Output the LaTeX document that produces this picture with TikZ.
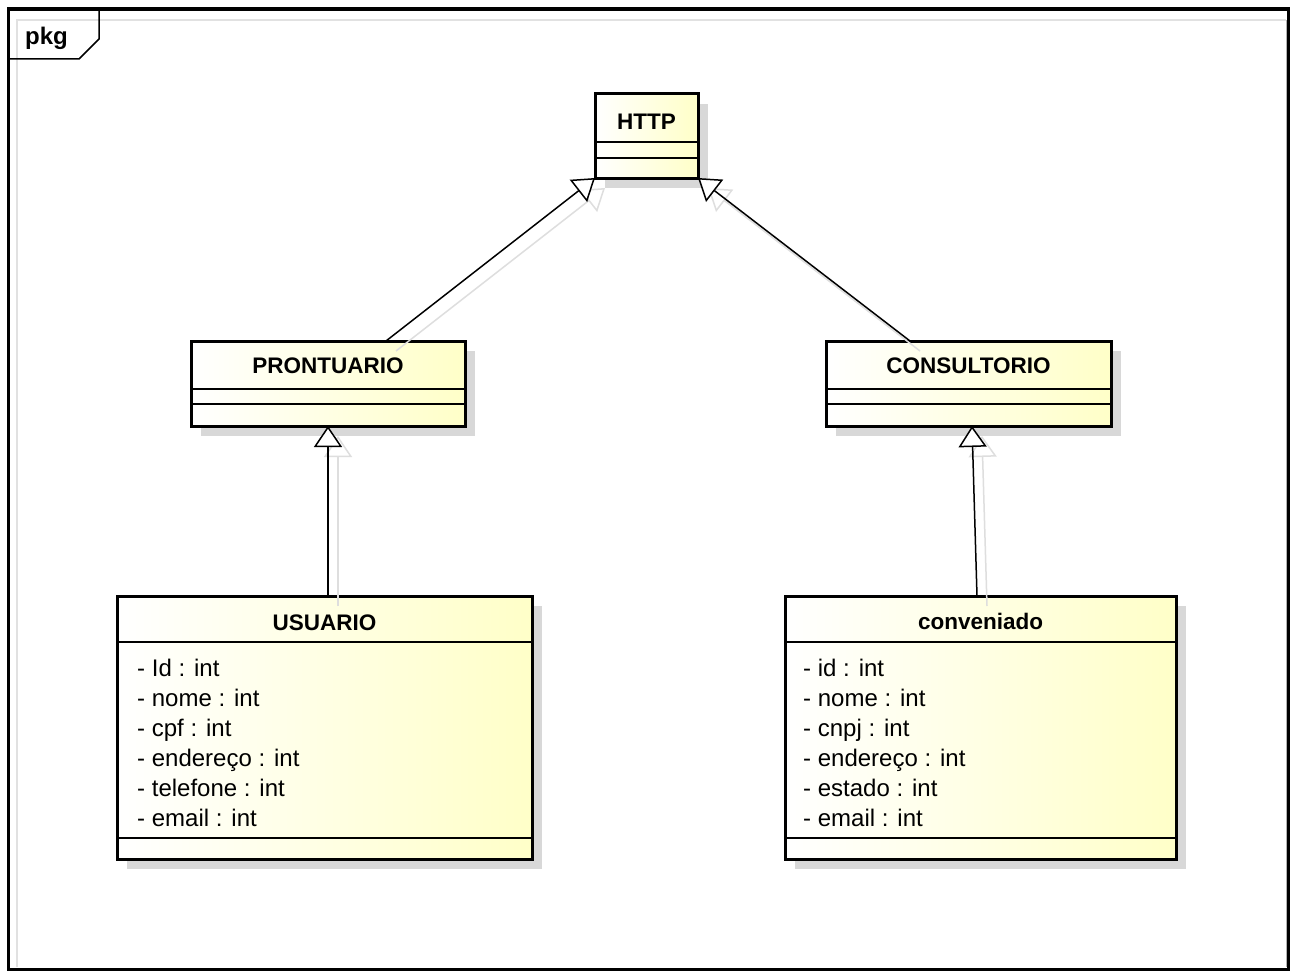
\documentclass[tikz,border=0pt]{standalone}
\usepackage{fontspec}
\setmainfont{Liberation Sans}
\usetikzlibrary{arrows.meta,shadows}
\definecolor{umly}{RGB}{255,255,200}
\definecolor{shadowgray}{RGB}{216,216,216}
\definecolor{connshadow}{RGB}{222,222,222}
\definecolor{framegray}{RGB}{225,225,225}
\begin{document}
\begin{tikzpicture}[x=1pt,y=-1pt,
  classbox/.style={draw=black, line width=3pt, left color=white, right color=umly,
    outer sep=0pt, inner sep=0pt,
    drop shadow={shadow xshift=10pt, shadow yshift=-10pt, fill=shadowgray, opacity=1}},
  sepline/.style={line width=1.5pt},
  cname/.style={font=\fontsize{22.5}{26}\selectfont\bfseries, anchor=base, inner sep=0pt},
  attr/.style={font=\fontsize{24}{28}\selectfont, anchor=base west, inner sep=0pt},
  gen/.style={draw=black, line width=1.5pt, -{Triangle[length=21pt,width=28pt,fill=white]}},
  genshadow/.style={draw=connshadow, line width=1.5pt, -{Triangle[length=21pt,width=28pt,fill=white]}},
]
\useasboundingbox (0,0) rectangle (1290,971);
\fill[white] (0,0) rectangle (1290,971);
% package frame
\draw[framegray, line width=1.5pt] (17,967) -- (17,20) -- (1286,20);
\draw[gray!60, line width=1pt] (1286,20) -- (1286,967);
\draw[black, line width=3.5pt] (8.5,9) rectangle (1288.5,969.5);
\draw[black, line width=1.5pt] (8.5,59) -- (79,59) -- (99,39) -- (99,9);
\node[font=\fontsize{24}{28}\selectfont\bfseries, anchor=base west, inner sep=0pt] (pkg) at (25,45) {pkg};

% classes
\node[classbox, minimum width=103pt, minimum height=84pt] (http) at (646.5,136) {};
\node[classbox, minimum width=274pt, minimum height=85pt] (prontuario) at (328,383.5) {};
\node[classbox, minimum width=285pt, minimum height=85pt] (consultorio) at (968.5,383.5) {};
\node[classbox, minimum width=415pt, minimum height=263pt] (usuario) at (324.5,727.5) {};
\node[classbox, minimum width=391pt, minimum height=263pt] (conveniado) at (980.5,727.5) {};

% compartments
\draw[sepline] (http.west |- 0,142) -- (http.east |- 0,142);
\draw[sepline] (http.west |- 0,158) -- (http.east |- 0,158);
\draw[sepline] (prontuario.west |- 0,389) -- (prontuario.east |- 0,389);
\draw[sepline] (prontuario.west |- 0,404) -- (prontuario.east |- 0,404);
\draw[sepline] (consultorio.west |- 0,389) -- (consultorio.east |- 0,389);
\draw[sepline] (consultorio.west |- 0,404) -- (consultorio.east |- 0,404);
\draw[sepline] (usuario.west |- 0,642) -- (usuario.east |- 0,642);
\draw[sepline] (usuario.west |- 0,838) -- (usuario.east |- 0,838);
\draw[sepline] (conveniado.west |- 0,642) -- (conveniado.east |- 0,642);
\draw[sepline] (conveniado.west |- 0,838) -- (conveniado.east |- 0,838);

% names
\node[cname] (httpname) at (646.5,129) {HTTP};
\node[cname] (prontname) at (328,373) {PRONTUARIO};
\node[cname] (consname) at (968.5,373) {CONSULTORIO};
\node[cname] (usuname) at (324.5,630) {USUARIO};
\node[cname] (convname) at (980.5,629) {conveniado};

% attributes
\node[attr] (u1) at (137,676) {- Id : int};
\node[attr] (u2) at (137,706) {- nome : int};
\node[attr] (u3) at (137,736) {- cpf : int};
\node[attr] (u4) at (137,766) {- endereço : int};
\node[attr] (u5) at (137,796) {- telefone : int};
\node[attr] (u6) at (137,826) {- email : int};
\node[attr] (c1) at (803,676) {- id : int};
\node[attr] (c2) at (803,706) {- nome : int};
\node[attr] (c3) at (803,736) {- cnpj : int};
\node[attr] (c4) at (803,766) {- endereço : int};
\node[attr] (c5) at (803,796) {- estado : int};
\node[attr] (c6) at (803,826) {- email : int};

% connector shadows
\draw[genshadow] ([xshift=68pt,yshift=-10pt]prontuario.north) -- ([xshift=10pt,yshift=-10pt]http.south west);
\draw[genshadow] ([xshift=-48.5pt,yshift=-10pt]consultorio.north) -- ([xshift=10pt,yshift=-10pt]http.south east);
\draw[genshadow] ([xshift=13.5pt,yshift=-10pt]usuario.north) -- ([xshift=10pt,yshift=-10pt]prontuario.south);
\draw[genshadow] ([xshift=6.5pt,yshift=-10pt]conveniado.north) -- ([xshift=13.5pt,yshift=-10pt]consultorio.south);

% connectors (generalization)
\draw[gen] ([xshift=58pt]prontuario.north) -- (http.south west);
\draw[gen] ([xshift=-58.5pt]consultorio.north) -- (http.south east);
\draw[gen] ([xshift=3.5pt]usuario.north) -- (prontuario.south);
\draw[gen] ([xshift=-3.5pt]conveniado.north) -- ([xshift=3.5pt]consultorio.south);
\end{tikzpicture}
\end{document}
